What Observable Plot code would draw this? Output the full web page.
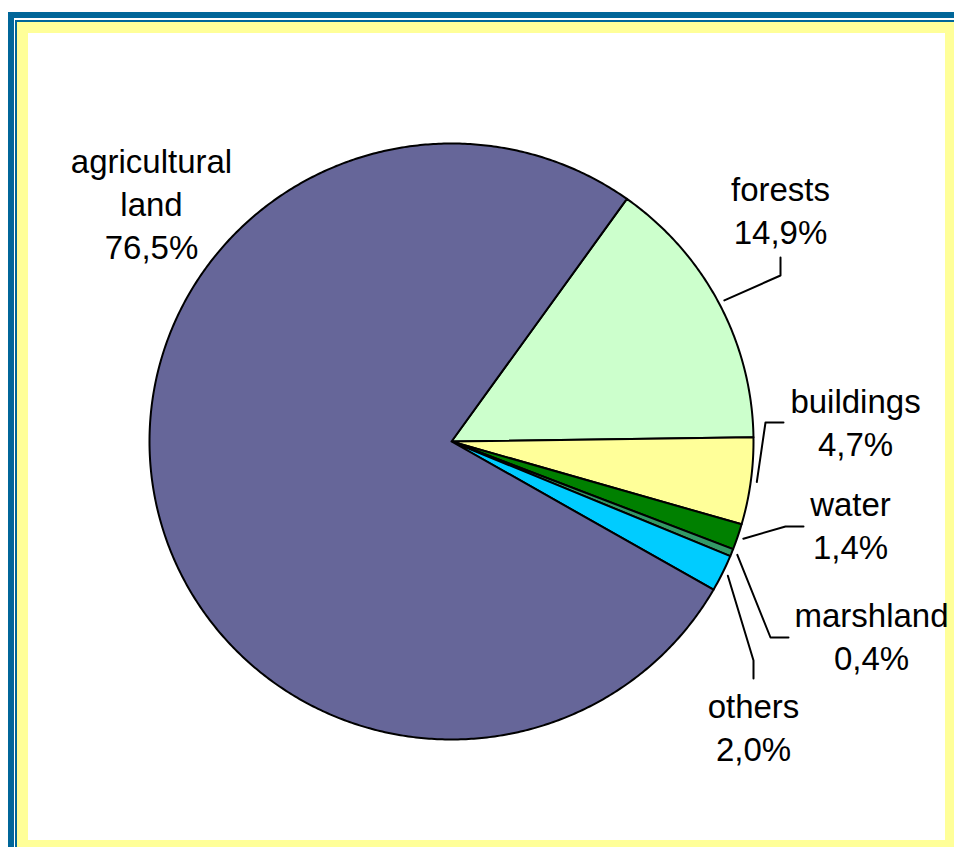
<!DOCTYPE html>
<html>
<head>
<meta charset="utf-8">
<script src="https://cdn.jsdelivr.net/npm/d3@7"></script>
<script src="https://cdn.jsdelivr.net/npm/@observablehq/plot@0.6"></script>
<style>
  html, body { margin: 0; padding: 0; background: #fff; }
  #page { position: relative; width: 954px; height: 847px; overflow: hidden; background: #fff; }
  .fr { position: absolute; box-sizing: border-box; }
  #chart { position: absolute; left: 0; top: 0; }
</style>
</head>
<body>
<div id="page">
  <div class="fr" style="left:8px;top:12px;width:1000px;height:900px;border-left:6px solid #006699;border-top:6px solid #006699;"></div>
  <div class="fr" style="left:15px;top:20px;width:1000px;height:900px;border-left:2px solid #006699;border-top:2px solid #006699;"></div>
  <div class="fr" style="left:17px;top:22px;width:1000px;height:900px;background:#FFFF99;"></div>
  <div class="fr" style="left:28px;top:33px;width:917px;height:807px;background:#fff;"></div>
  <div id="chart"></div>
</div>
<script>
// ---- data ----
const categories = ["agricultural land", "forests", "buildings", "water", "marshland", "others"];
const labelNames = [["agricultural", "land"], ["forests"], ["buildings"], ["water"], ["marshland"], ["others"]];
const shares = [76.5, 14.9, 4.7, 1.4, 0.4, 2.0];
const colors = ["#666699", "#CCFFCC", "#FFFF99", "#008000", "#339966", "#00CCFF"];
// clockwise drawing order, starting after the agricultural slice
const drawOrder = [1, 2, 3, 4, 5, 0];

// ---- layout ----
const W = 954, H = 847;
const pie = {cx: 451, cy: 441, rx: 302, ry: 298, start: 35.5};
const fontSize = 33, lineGap = 43;
const labelPos = [
  {x: 151, y: 172}, {x: 780, y: 200}, {x: 855, y: 412},
  {x: 850, y: 515}, {x: 871, y: 626}, {x: 753, y: 717}
];
const leaderPts = [
  null,
  [[780, 275], [780, 257]],
  [[765, 422], [783, 422]],
  [[785, 526], [803, 526]],
  [[770, 637], [788, 637]],
  [[753, 660], [753, 678]]
];

// ---- geometry from values ----
const total = d3.sum(shares);
const pt = (deg, k = 1) => {
  const a = deg * Math.PI / 180;
  return [pie.cx + k * pie.rx * Math.sin(a), pie.cy - k * pie.ry * Math.cos(a)];
};
let acc = pie.start;
const slices = [];
const midAngle = [];
for (const i of drawOrder) {
  const a0 = acc, a1 = acc + shares[i] / total * 360;
  acc = a1;
  midAngle[i] = (a0 + a1) / 2;
  const pts = [{x: pie.cx, y: pie.cy}];
  const n = Math.max(2, Math.ceil((a1 - a0) / 0.5));
  for (let j = 0; j <= n; j++) {
    const [x, y] = pt(a0 + (a1 - a0) * j / n);
    pts.push({x, y});
  }
  pts.push({x: pie.cx, y: pie.cy});
  slices.push({i, pts});
}

const fmt = v => v.toFixed(1).replace(".", ",") + "%";
const labelRows = [];
categories.forEach((c, i) => {
  const lines = [...labelNames[i], fmt(shares[i])];
  lines.forEach((t, k) => labelRows.push({text: t, x: labelPos[i].x, y: labelPos[i].y + k * lineGap}));
});

const leaders = [];
categories.forEach((c, i) => {
  if (!leaderPts[i]) return;
  const [sx, sy] = pt(midAngle[i], 1.02);
  leaders.push([{x: sx, y: sy}, ...leaderPts[i].map(([x, y]) => ({x, y}))]);
});

const chart = Plot.plot({
  width: W, height: H,
  margin: 0,
  x: {domain: [0, W], range: [0, W], axis: null},
  y: {domain: [0, H], range: [0, H], axis: null},
  style: {background: "transparent", fontFamily: "'Liberation Sans', Arial, sans-serif"},
  marks: [
    ...slices.map(s => Plot.line(s.pts, {x: "x", y: "y", fill: colors[s.i], stroke: "#000", strokeWidth: 2, strokeLinejoin: "round"})),
    ...leaders.map(l => Plot.line(l, {x: "x", y: "y", stroke: "#000", strokeWidth: 2})),
    Plot.text(labelRows, {x: "x", y: "y", text: "text", fontSize, fill: "#000", textAnchor: "middle", lineAnchor: "bottom"})
  ]
});
document.getElementById("chart").appendChild(chart);
</script>
</body>
</html>
